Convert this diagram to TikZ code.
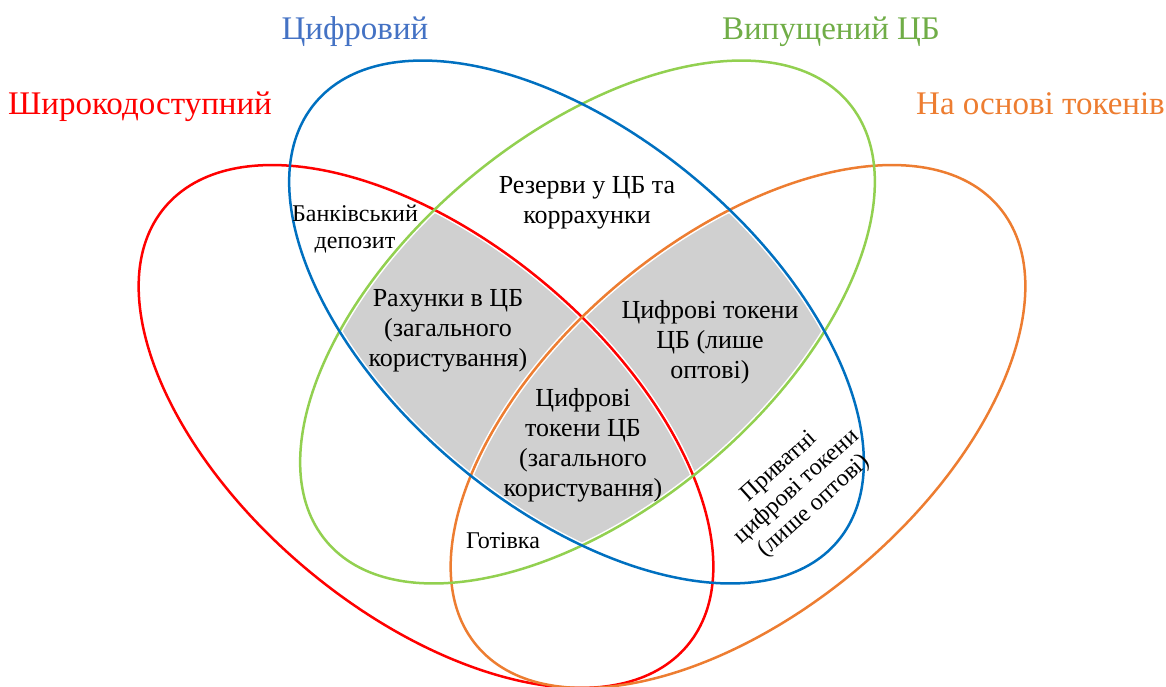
\documentclass[tikz,border=0pt]{standalone}
\usepackage{fontspec}
\setmainfont{Liberation Serif}
\definecolor{cred}{HTML}{FF0000}
\definecolor{cblue}{HTML}{0070C0}
\definecolor{cgreen}{HTML}{92D050}
\definecolor{corange}{HTML}{ED7D31}
\definecolor{tblue}{HTML}{4472C4}
\definecolor{tgreen}{HTML}{70AD47}
\definecolor{cgray}{HTML}{D0D0D0}
\tikzset{
  ring/.style={line width=2.5pt},
  halo/.style={draw=white,line width=5.5pt},
  title/.style={font=\fontsize{33}{38}\selectfont, inner sep=0pt, anchor=base},
  mainlbl/.style={font=\fontsize{26}{30}\selectfont, align=center, inner sep=0pt},
  smalllbl/.style={font=\fontsize{24}{26.5}\selectfont, align=center, inner sep=0pt},
}
\begin{document}
\begin{tikzpicture}[x=1pt,y=-1pt]
\useasboundingbox (0,0) rectangle (1166,686);
% gray regions
\begin{scope}
  \clip[shift={(576.5,322)},rotate=-40] (0,0) ellipse [x radius=341, y radius=186];
  \clip[shift={(587.5,322)},rotate=40] (0,0) ellipse [x radius=341, y radius=186];
  \fill[cgray,shift={(426,426.5)},rotate=-40] (0,0) ellipse [x radius=341, y radius=186];
  \fill[cgray,shift={(738,426.5)},rotate=40] (0,0) ellipse [x radius=341, y radius=186];
  \draw[halo,shift={(576.5,322)},rotate=-40] (0,0) ellipse [x radius=341, y radius=186];
  \draw[halo,shift={(587.5,322)},rotate=40] (0,0) ellipse [x radius=341, y radius=186];
  \draw[halo,shift={(426,426.5)},rotate=-40] (0,0) ellipse [x radius=341, y radius=186];
  \draw[halo,shift={(738,426.5)},rotate=40] (0,0) ellipse [x radius=341, y radius=186];
\end{scope}
% ellipses
\begin{scope}
  \clip (0,0) rectangle (1166,686);
  \draw[ring,draw=cred,shift={(426,426.5)},rotate=-40] (0,0) ellipse [x radius=341, y radius=186];
  \draw[ring,draw=corange,shift={(738,426.5)},rotate=40] (0,0) ellipse [x radius=341, y radius=186];
  \draw[ring,draw=cgreen,shift={(587.5,322)},rotate=40] (0,0) ellipse [x radius=341, y radius=186];
  \draw[ring,draw=cblue,shift={(576.5,322)},rotate=-40] (0,0) ellipse [x radius=341, y radius=186];
\end{scope}
% titles
\node[title,text=cred] (tWide) at (140,114) {Широкодоступний};
\node[title,text=tblue] (tDig) at (355,39) {Цифровий};
\node[title,text=tgreen] (tCB) at (831,39) {Випущений ЦБ};
\node[title,text=corange,anchor=base east] (tTok) at (1165,114) {На основі токенів};
% labels (base = baseline of last line)
\node[mainlbl,anchor=base] (lRes) at (587,223) {Резерви у ЦБ та\\коррахунки};
\node[smalllbl,anchor=base] (lDep) at (355,248) {Банківський\\депозит};
\node[mainlbl,anchor=base] (lAcc) at (448,366.7) {Рахунки в ЦБ\\(загального\\користування)};
\node[mainlbl,anchor=base] (lWT) at (710,378) {Цифрові токени\\ЦБ (лише\\оптові)};
\node[mainlbl,anchor=base] (lRT) at (583,496) {Цифрові\\токени ЦБ\\(загального\\користування)};
\node[smalllbl,anchor=base] (lCash) at (503,548) {Готівка};
\node[smalllbl,rotate=42] (lPriv) at (797,487) {Приватні\\цифрові токени\\(лише оптові)};
\end{tikzpicture}
\end{document}
